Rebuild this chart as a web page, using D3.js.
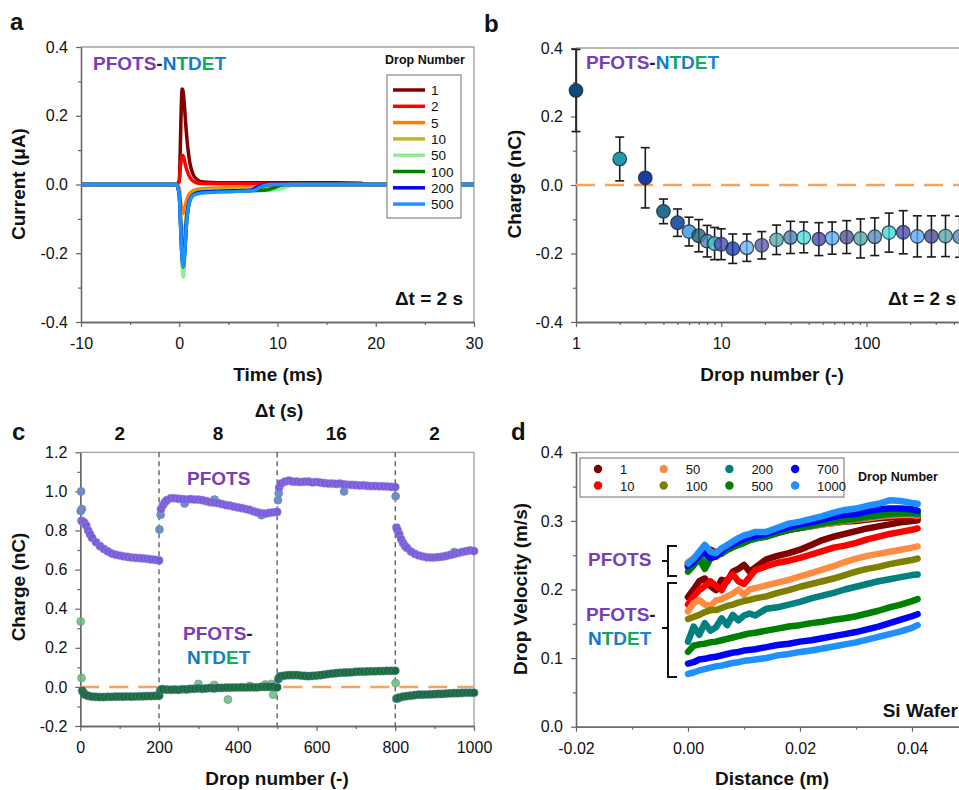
<!DOCTYPE html>
<html><head><meta charset="utf-8">
<script src="https://cdn.jsdelivr.net/npm/d3@7"></script>
<style>body{margin:0;background:#fff}svg{display:block}</style>
</head><body><svg id="c" width="959" height="790"></svg>
<script>
// ================= DATA =================
// Panel a: current transients (time ms, current uA)
const aDrops = ['1','2','5','10','50','100','200','500'];
const aCurve1 = [[-10,0],[-0.3,0],[0,0.01],[0.1,0.1],[0.2,0.22],[0.3,0.278],[0.4,0.27],[0.55,0.22],[0.7,0.16],[0.9,0.1],[1.1,0.06],[1.4,0.03],[1.8,0.014],[2.5,0.007],[4,0.005],[8,0.005],[12,0.005],[16,0.005],[18.5,0.004],[19.2,0],[30,0]];
const aCurve2 = [[-10,0],[-0.3,0],[0,0.01],[0.15,0.06],[0.3,0.085],[0.45,0.08],[0.6,0.06],[0.8,0.04],[1.1,0.02],[1.5,0.008],[2.2,0.003],[6,0.002],[11,0.001],[12,0],[30,0]];
const aCurve5 = [[-10,0],[-0.3,0],[0,-0.01],[0.15,-0.05],[0.3,-0.08],[0.4,-0.085],[0.55,-0.07],[0.75,-0.045],[1.0,-0.028],[1.4,-0.018],[2,-0.013],[4,-0.01],[7,-0.008],[9,-0.005],[10,-0.002],[10.5,0],[30,0]];
const aCurve10 = [[-10,0],[-0.3,0],[0,-0.02],[0.15,-0.09],[0.3,-0.16],[0.42,-0.175],[0.55,-0.14],[0.75,-0.08],[1.0,-0.045],[1.4,-0.025],[2,-0.018],[4,-0.015],[7,-0.012],[9.5,-0.01],[10.5,-0.003],[11,0],[30,0]];
const aCurve50 = [[-10,0],[-0.3,0],[0,-0.03],[0.15,-0.14],[0.3,-0.24],[0.42,-0.27],[0.55,-0.22],[0.75,-0.12],[1.0,-0.06],[1.4,-0.032],[2,-0.022],[4,-0.02],[7,-0.018],[9.5,-0.016],[10.5,-0.012],[11.2,-0.004],[11.8,0],[30,0]];
const aCurve100 = [[-10,0],[-0.3,0],[0,-0.03],[0.15,-0.13],[0.3,-0.22],[0.42,-0.24],[0.55,-0.2],[0.75,-0.11],[1.0,-0.055],[1.4,-0.03],[2,-0.022],[4,-0.02],[7,-0.018],[8.8,-0.016],[9.6,-0.01],[10.2,-0.003],[10.8,0],[30,0]];
const aCurve200 = [[-10,0],[-0.3,0],[0,-0.03],[0.15,-0.12],[0.3,-0.21],[0.42,-0.23],[0.55,-0.19],[0.75,-0.1],[1.0,-0.05],[1.4,-0.03],[2,-0.024],[4,-0.02],[6,-0.018],[7.3,-0.017],[7.9,-0.008],[8.5,-0.002],[9,0],[30,0]];
const aCurve500 = [[-10,0],[-0.3,0],[0,-0.03],[0.15,-0.13],[0.3,-0.22],[0.42,-0.24],[0.55,-0.2],[0.75,-0.11],[1.0,-0.055],[1.4,-0.032],[2,-0.026],[4,-0.022],[6,-0.02],[7.5,-0.018],[8.2,-0.008],[8.8,-0.002],[9.3,0],[30,0]];
const aCurves = [aCurve1,aCurve2,aCurve5,aCurve10,aCurve50,aCurve100,aCurve200,aCurve500];
const aColors = ['#800000','#ff0000','#ff8000','#c2b62c','#90ee90','#008000','#0000ff','#1e90ff'];

// Panel b: charge vs drop number
const bDrops  = [1,2,3,4,5,6,7,8,9,10,12,15,19,24,30,37,47,58,73,91,114,143,179,224,280,350,438];
const bCharge = [0.276,0.076,0.021,-0.077,-0.110,-0.136,-0.148,-0.164,-0.171,-0.173,-0.186,-0.183,-0.176,-0.160,-0.153,-0.153,-0.158,-0.155,-0.152,-0.156,-0.151,-0.139,-0.138,-0.150,-0.150,-0.149,-0.151];
const bErr    = [0.120,0.064,0.088,0.036,0.040,0.042,0.047,0.046,0.047,0.045,0.043,0.040,0.040,0.043,0.047,0.045,0.048,0.047,0.048,0.057,0.055,0.057,0.063,0.060,0.060,0.060,0.060];
const bFill   = ['#0b4a7d','#1e9aaa','#1a3ca0','#2a6e8e','#2b5ca8','#5ea8e8','#1f5e6e','#4e86b8','#3cccd0','#4a4ab0','#1838b0','#6ab4f4','#5a5aa0','#5aa8a8','#4a80b0','#4adcdc','#4848a8','#5ab0f8','#505098','#58a8a8','#5888b8','#40d8d8','#4848b0','#58a8f8','#484890','#58a8a8','#5888b0'];

// Panel c: charge vs drop number with changing interval
const cBounds = [0,200,500,800,1000];
const cSegLabels = ['2','8','16','2'];
const cPDrop = [3,6,10,15,20,25,30,40,50,60,70,80,90,100,110,120,130,140,150,160,170,180,190,200,
 205,210,215,220,230,240,250,260,270,280,290,300,310,320,330,340,350,360,370,380,390,400,410,420,430,440,450,460,470,480,490,500,
 505,510,520,530,540,550,560,570,580,590,600,610,620,630,640,650,660,670,680,690,700,710,720,730,740,750,760,770,780,790,800,
 803,806,810,815,820,825,830,840,850,860,870,880,890,900,910,920,930,940,950,960,970,980,990,1000];
const cPCharge = [0.85,0.845,0.84,0.825,0.80,0.78,0.762,0.74,0.72,0.705,0.693,0.682,0.676,0.672,0.668,0.665,0.662,0.66,0.659,0.657,0.655,0.652,0.65,0.647,
 0.91,0.93,0.945,0.955,0.965,0.965,0.962,0.96,0.958,0.96,0.958,0.958,0.955,0.95,0.945,0.943,0.94,0.935,0.93,0.927,0.922,0.918,0.914,0.91,0.905,0.898,0.893,0.888,0.886,0.89,0.893,0.895,
 1.02,1.04,1.05,1.055,1.05,1.05,1.048,1.05,1.05,1.046,1.048,1.045,1.042,1.04,1.04,1.038,1.04,1.036,1.034,1.033,1.032,1.03,1.031,1.028,1.027,1.027,1.026,1.026,1.025,1.023,1.022,
 0.815,0.80,0.78,0.755,0.735,0.72,0.71,0.692,0.68,0.672,0.667,0.663,0.662,0.662,0.664,0.666,0.67,0.675,0.68,0.685,0.69,0.694,0.698,0.695];
const cPOutDrop = [1,2,4,201,204,265,341,460,502,504,670,801,950];
const cPOutCharge = [0.90,1.00,0.91,0.805,0.88,0.938,0.958,0.878,0.955,0.99,1.00,0.975,0.69];
const cNDrop = [5,8,12,20,30,40,50,60,70,80,90,100,110,120,130,140,150,160,170,180,190,200,
 203,206,210,220,230,240,250,260,270,280,290,300,310,320,330,340,350,360,370,380,390,400,410,420,430,440,450,460,470,480,490,500,
 503,506,510,520,530,540,550,560,570,580,590,600,610,620,630,640,650,660,670,680,690,700,710,720,730,740,750,760,770,780,790,800,
 803,806,810,820,830,840,850,860,870,880,890,900,910,920,930,940,950,960,970,980,990,1000];
const cNCharge = [-0.02,-0.03,-0.04,-0.046,-0.05,-0.051,-0.052,-0.052,-0.051,-0.051,-0.05,-0.05,-0.05,-0.049,-0.05,-0.049,-0.048,-0.048,-0.047,-0.047,-0.046,-0.045,
 -0.02,-0.012,-0.012,-0.014,-0.015,-0.014,-0.015,-0.012,-0.013,-0.01,-0.01,-0.008,-0.01,-0.008,-0.006,-0.008,-0.005,-0.005,-0.004,-0.004,-0.003,-0.003,-0.002,-0.003,-0.002,-0.002,-0.002,0.0,0.0,0.0,0.0,-0.002,
 0.04,0.05,0.055,0.058,0.06,0.06,0.06,0.058,0.056,0.055,0.056,0.058,0.06,0.063,0.066,0.068,0.07,0.072,0.073,0.074,0.075,0.077,0.078,0.078,0.079,0.08,0.08,0.081,0.081,0.082,0.082,0.082,
 -0.06,-0.058,-0.055,-0.05,-0.047,-0.045,-0.042,-0.04,-0.04,-0.039,-0.038,-0.037,-0.036,-0.036,-0.034,-0.033,-0.032,-0.032,-0.031,-0.03,-0.03,-0.03];
const cNOutDrop = [1,3,300,340,375,430,470,485,490,801];
const cNOutCharge = [0.335,0.045,0.015,0.01,-0.065,0.005,0.012,0.015,-0.04,0.02];

// Panel d: drop velocity vs distance
const dDrops = ['1','10','50','100','200','500','700','1000'];
const dColors = ['#800000','#ff0000','#ff8c42','#808000','#008080','#008000','#0000ff','#1e90ff'];
const dX = [0,0.001,0.002,0.003,0.004,0.005,0.006,0.007,0.008,0.009,0.010,0.011,0.012,0.014,0.016,0.018,0.020,0.022,0.024,0.026,0.028,0.030,0.032,0.034,0.036,0.038,0.040,0.041];
const dPf1    = [0.238,0.244,0.25,0.256,0.258,0.254,0.257,0.262,0.266,0.27,0.273,0.275,0.277,0.28,0.283,0.287,0.29,0.292,0.295,0.297,0.299,0.3,0.302,0.304,0.305,0.306,0.306,0.305];
const dPf10   = [0.236,0.242,0.248,0.254,0.252,0.25,0.255,0.26,0.265,0.268,0.271,0.274,0.277,0.28,0.284,0.288,0.29,0.293,0.296,0.298,0.3,0.302,0.304,0.306,0.307,0.308,0.308,0.307];
const dPf50   = [0.24,0.245,0.252,0.258,0.255,0.25,0.254,0.258,0.262,0.266,0.27,0.273,0.276,0.279,0.283,0.287,0.29,0.292,0.295,0.297,0.3,0.302,0.304,0.306,0.308,0.309,0.309,0.308];
const dPf100  = [0.234,0.24,0.247,0.252,0.25,0.252,0.256,0.26,0.264,0.267,0.27,0.273,0.276,0.279,0.283,0.287,0.29,0.293,0.296,0.298,0.3,0.302,0.305,0.307,0.309,0.31,0.31,0.309];
const dPf200  = [0.232,0.238,0.246,0.24,0.248,0.25,0.254,0.258,0.262,0.266,0.269,0.272,0.274,0.278,0.283,0.287,0.29,0.293,0.296,0.299,0.302,0.304,0.306,0.308,0.31,0.311,0.311,0.31];
const dPf500  = [0.226,0.235,0.245,0.23,0.245,0.25,0.252,0.258,0.262,0.265,0.268,0.272,0.275,0.277,0.282,0.287,0.29,0.294,0.297,0.3,0.302,0.304,0.307,0.309,0.311,0.312,0.312,0.311];
const dPf700  = [0.234,0.24,0.25,0.255,0.246,0.248,0.256,0.262,0.266,0.27,0.274,0.276,0.278,0.281,0.286,0.291,0.295,0.298,0.302,0.306,0.309,0.31,0.314,0.317,0.318,0.318,0.317,0.315];
const dPf1000 = [0.238,0.245,0.255,0.265,0.255,0.253,0.26,0.265,0.27,0.275,0.279,0.281,0.284,0.284,0.29,0.296,0.299,0.303,0.307,0.312,0.316,0.318,0.322,0.325,0.33,0.329,0.326,0.325];
const dNt1    = [0.189,0.2,0.212,0.216,0.205,0.199,0.214,0.212,0.226,0.23,0.236,0.226,0.232,0.244,0.249,0.253,0.258,0.265,0.272,0.277,0.281,0.285,0.289,0.292,0.295,0.298,0.3,0.301];
const dNt10   = [0.178,0.19,0.199,0.205,0.212,0.205,0.199,0.214,0.222,0.212,0.208,0.218,0.228,0.234,0.239,0.242,0.246,0.251,0.256,0.261,0.264,0.268,0.273,0.277,0.281,0.284,0.287,0.289];
const dNt50   = [0.168,0.18,0.185,0.178,0.176,0.184,0.186,0.19,0.194,0.2,0.192,0.2,0.202,0.206,0.21,0.214,0.219,0.224,0.229,0.234,0.24,0.245,0.249,0.252,0.255,0.258,0.261,0.263];
const dNt100  = [0.157,0.16,0.163,0.167,0.17,0.17,0.173,0.176,0.178,0.181,0.183,0.185,0.187,0.19,0.195,0.199,0.204,0.208,0.212,0.216,0.221,0.226,0.23,0.233,0.237,0.24,0.243,0.245];
const dNt200  = [0.124,0.146,0.134,0.151,0.14,0.145,0.158,0.148,0.163,0.155,0.162,0.165,0.162,0.172,0.174,0.178,0.182,0.187,0.191,0.195,0.2,0.204,0.208,0.212,0.215,0.218,0.221,0.222];
const dNt500  = [0.109,0.118,0.12,0.121,0.123,0.124,0.126,0.128,0.13,0.132,0.134,0.136,0.137,0.14,0.143,0.146,0.148,0.151,0.153,0.156,0.158,0.161,0.165,0.169,0.174,0.178,0.183,0.186];
const dNt700  = [0.092,0.094,0.098,0.099,0.101,0.102,0.104,0.106,0.108,0.109,0.111,0.112,0.113,0.116,0.119,0.121,0.124,0.126,0.129,0.132,0.135,0.138,0.142,0.146,0.151,0.156,0.161,0.164];
const dNt1000 = [0.077,0.079,0.082,0.084,0.086,0.088,0.089,0.091,0.093,0.094,0.096,0.097,0.098,0.1,0.104,0.106,0.109,0.111,0.114,0.117,0.12,0.123,0.127,0.131,0.135,0.139,0.144,0.148];
const dPfots = [dPf1,dPf10,dPf50,dPf100,dPf200,dPf500,dPf700,dPf1000];
const dNtdet = [dNt1,dNt10,dNt50,dNt100,dNt200,dNt500,dNt700,dNt1000];

// ================= DRAWING =================
const FONT = 'Arial, "Liberation Sans", sans-serif';
const PURPLE = '#7a3db8';
const NT_COLORS = ['#0f78c8','#14a064','#1a7fc8','#12ae55','#1c84d2'];
const svg = d3.select('#c').style('font-family', FONT);
const f1 = v => v.toFixed(1);

function axes(g, x, y, o){
  const [xl,xr] = x.range(), [yb,yt] = y.range();
  g.append('path').attr('d',`M${xl},${yt}H${xr}V${yb}`).attr('fill','none').attr('stroke','#a0a0a0').attr('stroke-width',1.3);
  const gx = g.append('g').attr('transform',`translate(0,${yb})`);
  gx.append('g').call(d3.axisBottom(x).tickValues(o.xMinor).tickSize(3).tickSizeOuter(0).tickFormat(''));
  gx.append('g').call(d3.axisBottom(x).tickValues(o.xMajor).tickSize(5).tickSizeOuter(0).tickPadding(11).tickFormat(o.xFmt));
  const gy = g.append('g').attr('transform',`translate(${xl},0)`);
  gy.append('g').call(d3.axisLeft(y).tickValues(o.yMinor).tickSize(3).tickSizeOuter(0).tickFormat(''));
  gy.append('g').call(d3.axisLeft(y).tickValues(o.yMajor).tickSize(5).tickSizeOuter(0).tickPadding(8).tickFormat(o.yFmt));
  g.selectAll('.domain').attr('stroke','#666').attr('stroke-width',1.3);
  g.selectAll('.tick line').attr('stroke','#666').attr('stroke-width',1.2);
  g.selectAll('.tick text').attr('font-size',16).attr('font-family',FONT).attr('fill','#111');
}
function label(x,y,t,opt={}){
  const e = svg.append('text').attr('x',x).attr('y',y).text(t)
    .attr('font-size',opt.size||19).attr('font-weight',opt.w||'bold').attr('fill',opt.fill||'#111')
    .attr('text-anchor',opt.anchor||'start');
  if(opt.rot) e.attr('transform',`rotate(-90,${x},${y})`);
  return e;
}
function ntdet(sel){
  'NTDET'.split('').forEach((ch,i)=> sel.append('tspan').attr('fill',NT_COLORS[i]).text(ch));
}
function pfNt(x,y,anchor){
  const t = svg.append('text').attr('x',x).attr('y',y).attr('font-size',19).attr('font-weight','bold').attr('text-anchor',anchor||'start');
  t.append('tspan').attr('fill',PURPLE).text('PFOTS');
  t.append('tspan').attr('fill','#222').text('-');
  ntdet(t);
}

// ---------- Panel a ----------
{
  const x = d3.scaleLinear().domain([-10,30]).range([81,474]);
  const y = d3.scaleLinear().domain([-0.4,0.4]).range([322,47]);
  const g = svg.append('g');
  axes(g,x,y,{xMajor:[-10,0,10,20,30],xMinor:[-5,5,15,25],xFmt:d=>d,yMajor:[-0.4,-0.2,0,0.2,0.4],yMinor:[-0.3,-0.1,0.1,0.3],yFmt:f1});
  const line = d3.line().x(d=>x(d[0])).y(d=>y(d[1])).curve(d3.curveMonotoneX);
  aCurves.forEach((c,i)=> g.append('path').attr('d',line(c)).attr('fill','none').attr('stroke',aColors[i]).attr('stroke-width',3.5).attr('stroke-linejoin','round'));
  const lg = g.append('g');
  lg.append('text').attr('x',425).attr('y',64).attr('text-anchor','middle').attr('font-size',12.5).attr('font-weight','bold').attr('fill','#111').text('Drop Number');
  lg.append('rect').attr('x',387).attr('y',75).attr('width',74).attr('height',143).attr('fill','#fff').attr('stroke','#888').attr('stroke-width',1.2);
  aDrops.forEach((d,i)=>{
    const yy = 90 + i*16.3;
    lg.append('line').attr('x1',393).attr('x2',425).attr('y1',yy).attr('y2',yy).attr('stroke',aColors[i]).attr('stroke-width',3.5);
    lg.append('text').attr('x',431).attr('y',yy+5).attr('font-size',13.5).attr('fill','#111').text(d);
  });
  pfNt(93,70);
  label(463,305,'Δt = 2 s',{anchor:'end'});
  label(25,184,'Current (μA)',{rot:true,anchor:'middle',size:19});
  label(278,381,'Time (ms)',{anchor:'middle'});
  label(10,30,'a',{size:24});
}

// ---------- Panel b ----------
{
  const x = d3.scaleLog().domain([1,500]).range([576,968]);
  const y = d3.scaleLinear().domain([-0.4,0.4]).range([322,48]);
  const g = svg.append('g');
  axes(g,x,y,{xMajor:[1,10,100],xMinor:[2,3,4,5,6,7,8,9,20,30,40,50,60,70,80,90,200,300,400],xFmt:d=>d,yMajor:[-0.4,-0.2,0,0.2,0.4],yMinor:[-0.3,-0.1,0.1,0.3],yFmt:f1});
  g.append('line').attr('x1',x(1)).attr('x2',x(500)).attr('y1',y(0)).attr('y2',y(0)).attr('stroke','#f7a35c').attr('stroke-width',2.5).attr('stroke-dasharray','19,10');
  const pts = bDrops.map((d,i)=>({n:d,v:bCharge[i],e:bErr[i],c:bFill[i],i}));
  const eb = g.append('g').attr('stroke','#1a1a1a').attr('stroke-width',1.6);
  pts.forEach(p=>{
    const cx = x(p.n);
    eb.append('line').attr('x1',cx).attr('x2',cx).attr('y1',y(p.v+p.e)).attr('y2',y(p.v-p.e));
    eb.append('line').attr('x1',cx-4.5).attr('x2',cx+4.5).attr('y1',y(p.v+p.e)).attr('y2',y(p.v+p.e));
    eb.append('line').attr('x1',cx-4.5).attr('x2',cx+4.5).attr('y1',y(p.v-p.e)).attr('y2',y(p.v-p.e));
  });
  g.selectAll('circle.b').data(pts).join('circle').attr('cx',d=>x(d.n)).attr('cy',d=>y(d.v)).attr('r',6.8)
    .attr('fill',d=>d.c).attr('fill-opacity',d=>d.i<6?1:0.78).attr('stroke','#14283c').attr('stroke-width',1.2).attr('stroke-opacity',0.8);
  pfNt(586,69);
  label(956,305,'Δt = 2 s',{anchor:'end'});
  label(521,184,'Charge (nC)',{rot:true,anchor:'middle'});
  label(772,381,'Drop number (-)',{anchor:'middle'});
  label(484,32,'b',{size:24});
}

// ---------- Panel c ----------
{
  const x = d3.scaleLinear().domain([0,1000]).range([80.3,474]);
  const y = d3.scaleLinear().domain([-0.2,1.2]).range([726,452.3]);
  const g = svg.append('g');
  axes(g,x,y,{xMajor:[0,200,400,600,800,1000],xMinor:[100,300,500,700,900],xFmt:d=>d,yMajor:[-0.2,0,0.2,0.4,0.6,0.8,1.0,1.2],yMinor:[-0.1,0.1,0.3,0.5,0.7,0.9,1.1],yFmt:f1});
  cBounds.slice(1,-1).forEach(b=> g.append('line').attr('x1',x(b)).attr('x2',x(b)).attr('y1',y(1.2)).attr('y2',y(-0.2)).attr('stroke','#555').attr('stroke-width',1.3).attr('stroke-dasharray','5,4'));
  g.append('line').attr('x1',x(0)).attr('x2',x(1000)).attr('y1',y(0)).attr('y2',y(0)).attr('stroke','#f7a35c').attr('stroke-width',2.5).attr('stroke-dasharray','19,10');
  const P = cPDrop.map((d,i)=>[d,cPCharge[i]]);
  const N = cNDrop.map((d,i)=>[d,cNCharge[i]]);
  const PO = cPOutDrop.map((d,i)=>[d,cPOutCharge[i]]);
  const NO = cNOutDrop.map((d,i)=>[d,cNOutCharge[i]]);
  g.append('g').selectAll('circle').data(PO).join('circle').attr('cx',d=>x(d[0])).attr('cy',d=>y(d[1])).attr('r',4).attr('fill','#6f8ec4').attr('stroke','#6a86b8').attr('stroke-width',0.6);
  g.append('g').selectAll('circle').data(P).join('circle').attr('cx',d=>x(d[0])).attr('cy',d=>y(d[1])).attr('r',4.1).attr('fill','#7e5bdb').attr('stroke','#8aa0e0').attr('stroke-width',0.7).attr('stroke-opacity',0.6);
  g.append('g').selectAll('circle').data(NO).join('circle').attr('cx',d=>x(d[0])).attr('cy',d=>y(d[1])).attr('r',4).attr('fill','#6cb87c').attr('fill-opacity',0.85).attr('stroke','#5a9a6a').attr('stroke-width',0.6);
  g.append('g').selectAll('circle').data(N).join('circle').attr('cx',d=>x(d[0])).attr('cy',d=>y(d[1])).attr('r',4.1).attr('fill','#1e6b3a').attr('stroke','#5a86c8').attr('stroke-width',0.7).attr('stroke-opacity',0.6);
  label(279,417,'Δt (s)',{anchor:'middle'});
  cSegLabels.forEach((t,i)=> label(x((cBounds[i]+cBounds[i+1])/2),440,t,{anchor:'middle'}));
  label(187,485,'PFOTS',{fill:PURPLE});
  const t1 = svg.append('text').attr('x',183).attr('y',640).attr('font-size',19).attr('font-weight','bold');
  t1.append('tspan').attr('fill',PURPLE).text('PFOTS'); t1.append('tspan').attr('fill','#222').text('-');
  const t2 = svg.append('text').attr('x',187).attr('y',664).attr('font-size',19).attr('font-weight','bold'); ntdet(t2);
  label(25,587,'Charge (nC)',{rot:true,anchor:'middle'});
  label(277,785,'Drop number (-)',{anchor:'middle'});
  label(12,440,'c',{size:24});
}

// ---------- Panel d ----------
{
  const x = d3.scaleLinear().domain([-0.02,0.05]).range([576,968]);
  const y = d3.scaleLinear().domain([0,0.4]).range([726.7,452.3]);
  const g = svg.append('g');
  axes(g,x,y,{xMajor:[-0.02,0,0.02,0.04],xMinor:[-0.01,0.01,0.03],xFmt:d=>d.toFixed(2),yMajor:[0,0.1,0.2,0.3,0.4],yMinor:[0.05,0.15,0.25,0.35],yFmt:f1});
  const line = d3.line().x((d,i)=>x(dX[i])).y(d=>y(d));
  dNtdet.forEach((s,i)=> g.append('path').attr('d',line(s)).attr('fill','none').attr('stroke',dColors[i]).attr('stroke-width',6.5).attr('stroke-linejoin','round').attr('stroke-linecap','round'));
  dPfots.forEach((s,i)=> g.append('path').attr('d',line(s)).attr('fill','none').attr('stroke',dColors[i]).attr('stroke-width',6.5).attr('stroke-linejoin','round').attr('stroke-linecap','round'));
  const lg = g.append('g');
  lg.append('rect').attr('x',580).attr('y',458).attr('width',264).attr('height',39).attr('fill','#fff').attr('stroke','#888').attr('stroke-width',1.2);
  dDrops.forEach((d,i)=>{
    const col = Math.floor(i/2), row = i%2;
    const mx = 598 + col*65.7, yy = 469 + row*16.5;
    lg.append('circle').attr('cx',mx).attr('cy',yy).attr('r',4.2).attr('fill',dColors[i]);
    lg.append('text').attr('x',mx+22).attr('y',yy+5).attr('font-size',13).attr('fill','#111').text(d);
  });
  lg.append('text').attr('x',858).attr('y',481).attr('font-size',12.5).attr('font-weight','bold').attr('fill','#111').text('Drop Number');
  const br = g.append('g').attr('stroke','#111').attr('stroke-width',2).attr('fill','none');
  br.append('path').attr('d','M677,546H668V576H677M668,561H662');
  br.append('path').attr('d','M677,583H668V677H677M668,628H662');
  label(588,566,'PFOTS',{fill:PURPLE});
  const t1 = svg.append('text').attr('x',586).attr('y',621).attr('font-size',19).attr('font-weight','bold');
  t1.append('tspan').attr('fill',PURPLE).text('PFOTS'); t1.append('tspan').attr('fill','#222').text('-');
  const t2 = svg.append('text').attr('x',588).attr('y',645).attr('font-size',19).attr('font-weight','bold'); ntdet(t2);
  label(958,717,'Si Wafer',{anchor:'end'});
  label(527,589,'Drop Velocity (m/s)',{rot:true,anchor:'middle'});
  label(772,785,'Distance (m)',{anchor:'middle'});
  label(511,440,'d',{size:24});
}
</script></body></html>
